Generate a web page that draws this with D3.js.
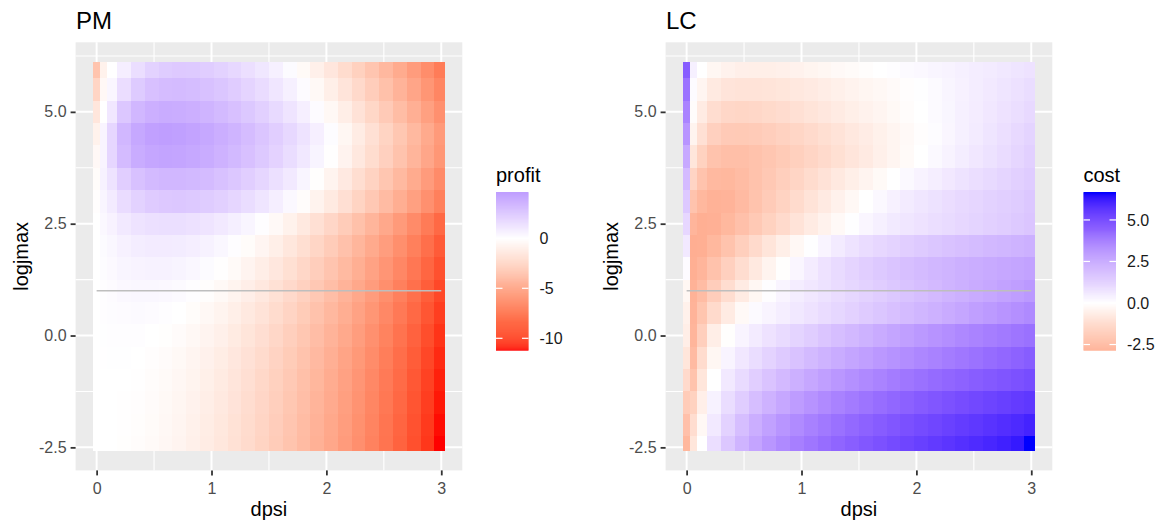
<!DOCTYPE html>
<html>
<head>
<meta charset="utf-8">
<script src="https://cdn.jsdelivr.net/npm/d3@7"></script>
<style>
  body { margin: 0; background: #fff; }
  text { font-family: "Liberation Sans", Arial, sans-serif; }
</style>
</head>
<body>
<svg id="chart" width="1163" height="526"></svg>
<script>
// grid: columns (dpsi), rows (logjmax, bottom to top)
var dpsi = [0, 0.06, 0.12, 0.24, 0.36, 0.48, 0.6, 0.72, 0.84, 0.96, 1.08, 1.2, 1.32, 1.44,
  1.56, 1.68, 1.8, 1.92, 2.04, 2.16, 2.28, 2.4, 2.52, 2.64, 2.76, 2.88, 3.0];
var logjmax = [-2.5, -2, -1.5, -1, -0.5, 0, 0.5, 1, 1.5, 2, 2.5, 3, 3.5, 4, 4.5, 5, 5.5, 6];

// PM panel, one row per logjmax value
var profit = [
  [0, 0, -0.02, -0.07, -0.16, -0.29, -0.45, -0.64, -0.88, -1.14, -1.45, -1.79, -2.16, -2.57, -3.02, -3.5, -4.02, -4.57, -5.16, -5.79, -6.45, -7.14, -7.87, -8.64, -9.45, -10.29, -11.17],
  [0, 0, -0.01, -0.05, -0.14, -0.25, -0.41, -0.6, -0.83, -1.09, -1.39, -1.73, -2.1, -2.51, -2.95, -3.43, -3.95, -4.5, -5.08, -5.71, -6.37, -7.06, -7.79, -8.56, -9.36, -10.2, -11.08],
  [0, 0.01, 0, -0.03, -0.1, -0.21, -0.36, -0.53, -0.76, -1.01, -1.31, -1.64, -2.01, -2.41, -2.85, -3.33, -3.84, -4.39, -4.97, -5.6, -6.26, -6.94, -7.67, -8.44, -9.25, -10.09, -10.95],
  [0, 0.02, 0.02, 0, -0.06, -0.16, -0.29, -0.46, -0.68, -0.92, -1.22, -1.54, -1.9, -2.3, -2.74, -3.21, -3.72, -4.26, -4.85, -5.47, -6.13, -6.81, -7.54, -8.3, -9.11, -9.95, -10.81],
  [0, 0.03, 0.04, 0.04, 0, -0.09, -0.21, -0.37, -0.58, -0.81, -1.09, -1.41, -1.76, -2.15, -2.59, -3.05, -3.56, -4.1, -4.68, -5.3, -5.95, -6.63, -7.36, -8.12, -8.93, -9.76, -10.63],
  [0, 0.05, 0.07, 0.1, 0.09, 0.02, -0.08, -0.22, -0.41, -0.63, -0.91, -1.22, -1.56, -1.94, -2.37, -2.83, -3.34, -3.87, -4.45, -5.06, -5.71, -6.39, -7.12, -7.88, -8.68, -9.52, -10.38],
  [0, 0.07, 0.12, 0.19, 0.21, 0.17, 0.1, -0.02, -0.2, -0.41, -0.67, -0.97, -1.3, -1.68, -2.1, -2.55, -3.05, -3.58, -4.16, -4.77, -5.42, -6.1, -6.82, -7.58, -8.38, -9.22, -10.08],
  [0, 0.1, 0.18, 0.31, 0.36, 0.36, 0.32, 0.22, 0.07, -0.13, -0.38, -0.66, -0.99, -1.36, -1.78, -2.23, -2.72, -3.25, -3.82, -4.44, -5.08, -5.76, -6.48, -7.24, -8.05, -8.88, -9.74],
  [0, 0.15, 0.26, 0.45, 0.56, 0.6, 0.59, 0.52, 0.39, 0.2, -0.04, -0.31, -0.63, -1.0, -1.41, -1.86, -2.36, -2.89, -3.46, -4.07, -4.72, -5.4, -6.12, -6.88, -7.68, -8.52, -9.39],
  [0, 0.2, 0.38, 0.66, 0.83, 0.92, 0.94, 0.9, 0.79, 0.62, 0.39, 0.11, -0.2, -0.57, -0.98, -1.43, -1.93, -2.46, -3.03, -3.65, -4.3, -4.98, -5.7, -6.47, -7.27, -8.11, -8.98],
  [0, 0.32, 0.58, 1.0, 1.28, 1.44, 1.51, 1.5, 1.41, 1.25, 1.03, 0.76, 0.44, 0.07, -0.34, -0.8, -1.3, -1.83, -2.41, -3.03, -3.68, -4.36, -5.09, -5.86, -6.66, -7.5, -8.38],
  [-0.1, 0.46, 0.92, 1.63, 2.11, 2.41, 2.56, 2.6, 2.54, 2.4, 2.18, 1.91, 1.59, 1.22, 0.8, 0.34, -0.16, -0.7, -1.28, -1.9, -2.56, -3.25, -3.98, -4.75, -5.56, -6.4, -7.27],
  [-0.2, 0.6, 1.3, 2.3, 2.9, 3.25, 3.4, 3.4, 3.3, 3.17, 2.92, 2.62, 2.28, 1.89, 1.45, 1.0, 0.48, -0.07, -0.66, -1.29, -1.95, -2.64, -3.37, -4.14, -4.95, -5.79, -6.66],
  [-0.4, 0.5, 1.9, 3.2, 3.9, 4.2, 4.3, 4.25, 4.1, 3.9, 3.6, 3.3, 2.94, 2.53, 2.08, 1.6, 1.08, 0.53, -0.06, -0.69, -1.35, -2.04, -2.77, -3.54, -4.35, -5.19, -6.06],
  [-0.8, 0.5, 1.9, 3.4, 4.1, 4.46, 4.56, 4.5, 4.33, 4.11, 3.83, 3.5, 3.14, 2.73, 2.28, 1.8, 1.28, 0.73, 0.14, -0.49, -1.15, -1.84, -2.57, -3.34, -4.15, -4.99, -5.86],
  [-1.5, 0, 1.1, 2.6, 3.4, 3.75, 3.9, 3.87, 3.74, 3.53, 3.25, 2.93, 2.59, 2.18, 1.73, 1.25, 0.73, 0.18, -0.41, -1.04, -1.7, -2.39, -3.12, -3.89, -4.7, -5.54, -6.41],
  [-2.5, -0.4, 0.4, 1.56, 2.45, 2.93, 3.14, 3.18, 3.1, 2.92, 2.66, 2.36, 2.01, 1.63, 1.18, 0.7, 0.18, -0.37, -0.96, -1.59, -2.25, -2.94, -3.67, -4.44, -5.25, -6.09, -6.96],
  [-3.5, -0.8, 0, 0.8, 1.55, 2.1, 2.4, 2.5, 2.47, 2.33, 2.1, 1.81, 1.48, 1.13, 0.68, 0.2, -0.32, -0.87, -1.46, -2.09, -2.75, -3.44, -4.17, -4.94, -5.75, -6.59, -7.46]
];

// LC panel, one row per logjmax value
var cost = [
  [-2.5, -0.9, 0, 0.9, 1.55, 2.1, 2.55, 2.95, 3.3, 3.6, 3.87, 4.12, 4.35, 4.56, 4.75, 4.93, 5.1, 5.26, 5.41, 5.55, 5.68, 5.81, 5.93, 6.05, 6.17, 6.3, 6.64],
  [-2.2, -1.2, -0.25, 0.6, 1.25, 1.8, 2.25, 2.64, 2.98, 3.28, 3.55, 3.8, 4.03, 4.24, 4.44, 4.62, 4.79, 4.95, 5.1, 5.24, 5.37, 5.5, 5.62, 5.74, 5.85, 5.96, 6.1],
  [-1.8, -1.6, -0.55, 0.35, 0.95, 1.4, 1.8, 2.15, 2.47, 2.77, 3.04, 3.29, 3.52, 3.74, 3.94, 4.13, 4.31, 4.48, 4.64, 4.79, 4.93, 5.06, 5.18, 5.3, 5.41, 5.52, 5.62],
  [-1.3, -2.1, -0.9, 0, 0.6, 1.0, 1.35, 1.66, 1.95, 2.21, 2.46, 2.69, 2.91, 3.12, 3.32, 3.51, 3.7, 3.88, 4.03, 4.18, 4.32, 4.45, 4.58, 4.7, 4.82, 4.93, 5.05],
  [-0.9, -2.4, -1.25, -0.3, 0.3, 0.65, 0.95, 1.22, 1.47, 1.7, 1.92, 2.13, 2.33, 2.52, 2.7, 2.88, 3.05, 3.22, 3.38, 3.54, 3.7, 3.85, 4.0, 4.15, 4.3, 4.45, 4.6],
  [-0.6, -2.6, -1.7, -0.6, -0.05, 0.3, 0.55, 0.8, 1.0, 1.2, 1.4, 1.6, 1.8, 1.98, 2.16, 2.34, 2.52, 2.7, 2.87, 3.03, 3.19, 3.34, 3.49, 3.63, 3.77, 3.9, 4.03],
  [-0.5, -2.65, -2.05, -1.3, -0.7, -0.2, 0.13, 0.3, 0.47, 0.64, 0.8, 0.96, 1.12, 1.28, 1.44, 1.59, 1.74, 1.89, 2.04, 2.19, 2.34, 2.49, 2.68, 2.84, 3.0, 3.15, 3.3],
  [-0.3, -2.7, -2.35, -1.75, -1.2, -0.72, -0.3, 0.05, 0.3, 0.5, 0.65, 0.81, 0.96, 1.11, 1.26, 1.4, 1.54, 1.68, 1.82, 1.95, 2.08, 2.21, 2.34, 2.47, 2.6, 2.73, 2.86],
  [0.1, -2.8, -2.6, -2.15, -1.65, -1.2, -0.78, -0.4, -0.05, 0.25, 0.53, 0.8, 1.0, 1.18, 1.35, 1.5, 1.64, 1.77, 1.89, 2.0, 2.1, 2.2, 2.29, 2.37, 2.45, 2.53, 2.6],
  [0.6, -2.83, -2.8, -2.5, -2.1, -1.7, -1.3, -0.93, -0.58, -0.26, 0.04, 0.3, 0.54, 0.76, 0.96, 1.1, 1.23, 1.36, 1.48, 1.59, 1.69, 1.79, 1.88, 1.97, 2.05, 2.13, 2.2],
  [1.1, -2.6, -2.8, -2.75, -2.5, -2.2, -1.9, -1.6, -1.3, -1.0, -0.72, -0.45, -0.2, 0.03, 0.24, 0.42, 0.58, 0.7, 0.8, 0.9, 1.0, 1.1, 1.2, 1.3, 1.4, 1.5, 1.6],
  [1.5, -2.1, -2.5, -2.7, -2.65, -2.4, -2.1, -1.83, -1.55, -1.27, -0.99, -0.73, -0.48, -0.24, 0, 0.2, 0.38, 0.54, 0.68, 0.81, 0.93, 1.04, 1.14, 1.24, 1.33, 1.42, 1.55],
  [1.9, -1.5, -2.1, -2.45, -2.5, -2.35, -2.15, -1.93, -1.7, -1.47, -1.24, -1.01, -0.79, -0.58, -0.38, -0.19, 0, 0.17, 0.33, 0.48, 0.62, 0.76, 0.9, 1.03, 1.16, 1.29, 1.42],
  [2.4, -0.9, -1.6, -2.1, -2.25, -2.25, -2.15, -2.0, -1.84, -1.67, -1.49, -1.3, -1.11, -0.92, -0.73, -0.54, -0.36, -0.18, 0, 0.17, 0.33, 0.49, 0.65, 0.81, 0.97, 1.13, 1.3],
  [3.0, -0.4, -1.1, -1.65, -1.85, -1.88, -1.82, -1.72, -1.59, -1.45, -1.3, -1.14, -0.98, -0.82, -0.66, -0.5, -0.35, -0.2, -0.06, 0.08, 0.24, 0.4, 0.56, 0.72, 0.88, 1.04, 1.2],
  [3.5, -0.1, -0.7, -1.2, -1.4, -1.45, -1.4, -1.32, -1.22, -1.1, -0.97, -0.84, -0.71, -0.58, -0.46, -0.34, -0.22, -0.11, 0, 0.13, 0.26, 0.4, 0.53, 0.66, 0.79, 0.92, 1.05],
  [4.0, 0.1, -0.35, -0.75, -0.95, -1.0, -1.0, -0.96, -0.9, -0.82, -0.73, -0.63, -0.53, -0.43, -0.33, -0.24, -0.16, -0.06, 0.04, 0.15, 0.27, 0.38, 0.5, 0.61, 0.72, 0.84, 0.95],
  [4.6, 0.4, 0, -0.3, -0.45, -0.55, -0.58, -0.57, -0.52, -0.45, -0.37, -0.29, -0.21, -0.14, -0.07, -0.01, 0.06, 0.13, 0.2, 0.27, 0.34, 0.41, 0.49, 0.56, 0.64, 0.72, 0.8]
];

var xTicks = [0, 1, 2, 3];
var yTicks = [-2.5, 0, 2.5, 5];
var profitTicks = [-10, -5, 0];
var costTicks = [-2.5, 0, 2.5, 5];
var refLevel = 1;          // grey segment at logjmax = 1
var refSpan = [0, 3];

// raster extent (half a fine cell past the outer samples)
var rasterX = [-0.03, 3.03], rasterY = [-2.58, 6.12];

var svg = d3.select("#chart");

function expand(ext) {
  var pad = (ext[1] - ext[0]) * 0.05;
  return [ext[0] - pad, ext[1] + pad];
}

function edges(centers, lo, hi) {
  return centers.map(function(c, i) {
    var a = i === 0 ? lo : (centers[i - 1] + c) / 2;
    var b = i === centers.length - 1 ? hi : (c + centers[i + 1]) / 2;
    return [a, b];
  });
}

var colEdges = edges(dpsi, rasterX[0], rasterX[1]);
var rowEdges = edges(logjmax, rasterY[0], rasterY[1]);

function drawPanel(cfg) {
  var off = cfg.offset;
  var g = svg.append("g");

  var x = d3.scaleLinear().domain(expand(rasterX)).range([75.6 + off, 462.3 + off]);
  var y = d3.scaleLinear().domain(expand(rasterY)).range([470.4, 42.3]);

  var flat = d3.merge(cfg.values);
  var ext = d3.extent(flat);
  var lim = d3.max(flat, Math.abs);
  var color = d3.scaleDiverging(function(t) {
      return t < 0.5 ? d3.interpolateLab("red", "white")(t * 2)
                     : d3.interpolateLab("white", "blue")(t * 2 - 1);
    }).domain([-lim, 0, lim]);

  // panel background + grid
  g.append("rect")
    .attr("x", x.range()[0]).attr("y", y.range()[1])
    .attr("width", x.range()[1] - x.range()[0])
    .attr("height", y.range()[0] - y.range()[1])
    .attr("fill", "#ebebeb");

  var xMinor = [0.5, 1.5, 2.5];
  var yMinor = [-1.25, 1.25, 3.75, 6.25];
  g.selectAll(".xminor").data(xMinor).enter().append("line")
    .attr("x1", x).attr("x2", x)
    .attr("y1", y.range()[0]).attr("y2", y.range()[1])
    .attr("stroke", "#fff").attr("stroke-width", 1.1);
  g.selectAll(".yminor").data(yMinor).enter().append("line")
    .attr("y1", y).attr("y2", y)
    .attr("x1", x.range()[0]).attr("x2", x.range()[1])
    .attr("stroke", "#fff").attr("stroke-width", 1.1);
  g.selectAll(".xmajor").data(xTicks).enter().append("line")
    .attr("x1", x).attr("x2", x)
    .attr("y1", y.range()[0]).attr("y2", y.range()[1])
    .attr("stroke", "#fff").attr("stroke-width", 2);
  g.selectAll(".ymajor").data(yTicks).enter().append("line")
    .attr("y1", y).attr("y2", y)
    .attr("x1", x.range()[0]).attr("x2", x.range()[1])
    .attr("stroke", "#fff").attr("stroke-width", 2);

  // raster cells
  var cells = [];
  cfg.values.forEach(function(row, j) {
    row.forEach(function(v, i) {
      cells.push({ i: i, j: j, v: v });
    });
  });
  g.append("g").attr("shape-rendering", "crispEdges")
    .selectAll("rect").data(cells).enter().append("rect")
    .attr("x", function(d) { return x(colEdges[d.i][0]); })
    .attr("width", function(d) { return x(colEdges[d.i][1]) - x(colEdges[d.i][0]); })
    .attr("y", function(d) { return y(rowEdges[d.j][1]); })
    .attr("height", function(d) { return y(rowEdges[d.j][0]) - y(rowEdges[d.j][1]); })
    .attr("fill", function(d) { return color(d.v); });

  // reference segment
  g.append("line")
    .attr("x1", x(refSpan[0])).attr("x2", x(refSpan[1]))
    .attr("y1", y(refLevel)).attr("y2", y(refLevel))
    .attr("stroke", "#bebebe").attr("stroke-width", 1.6);

  // axes
  var xAxis = g.append("g")
    .attr("transform", "translate(0," + y.range()[0] + ")")
    .call(d3.axisBottom(x).tickValues(xTicks).tickSize(5).tickPadding(7)
      .tickFormat(function(d) { return String(d); }));
  var yAxis = g.append("g")
    .attr("transform", "translate(" + x.range()[0] + ",0)")
    .call(d3.axisLeft(y).tickValues(yTicks).tickSize(5).tickPadding(4)
      .tickFormat(function(d) { return d.toFixed(1); }));
  [xAxis, yAxis].forEach(function(a) {
    a.select(".domain").remove();
    a.selectAll(".tick line").attr("stroke", "#333333").attr("stroke-width", 1.8);
    a.selectAll(".tick text").attr("fill", "#4d4d4d")
      .style("font-size", "16px").style("font-family", "'Liberation Sans', Arial, sans-serif");
  });

  g.append("text")
    .attr("x", (x.range()[0] + x.range()[1]) / 2).attr("y", 516)
    .attr("text-anchor", "middle").style("font-size", "20px")
    .text("dpsi");
  g.append("text")
    .attr("transform", "translate(" + (28 + off) + "," + ((y.range()[0] + y.range()[1]) / 2) + ") rotate(-90)")
    .attr("text-anchor", "middle").style("font-size", "20px")
    .text("logjmax");
  g.append("text")
    .attr("x", 76 + off).attr("y", 29)
    .style("font-size", "24px")
    .text(cfg.title);

  // colour bar legend
  var lx = cfg.legendX, bw = 32.5;
  var ly = d3.scaleLinear().domain(ext).range([350, 192.7]);
  var steps = d3.range(0, 160).map(function(k) {
    return ext[0] + (ext[1] - ext[0]) * k / 159;
  });
  var lg = svg.append("g");
  lg.append("g").selectAll("rect").data(steps).enter().append("rect")
    .attr("x", lx).attr("width", bw)
    .attr("y", function(d) { return ly(d) - 0.7; })
    .attr("height", 1.4)
    .attr("fill", function(d) { return color(d); });
  lg.selectAll(".tickl").data(cfg.legendTicks).enter().append("line")
    .attr("x1", lx).attr("x2", lx + bw / 5)
    .attr("y1", ly).attr("y2", ly)
    .attr("stroke", "#fff").attr("stroke-width", 1.2);
  lg.selectAll(".tickr").data(cfg.legendTicks).enter().append("line")
    .attr("x1", lx + bw * 4 / 5).attr("x2", lx + bw)
    .attr("y1", ly).attr("y2", ly)
    .attr("stroke", "#fff").attr("stroke-width", 1.2);
  var la = lg.append("g")
    .attr("transform", "translate(" + (lx + bw) + ",0)")
    .call(d3.axisRight(ly).tickValues(cfg.legendTicks).tickSize(0).tickPadding(11)
      .tickFormat(cfg.legendFormat));
  la.select(".domain").remove();
  la.selectAll(".tick text").attr("fill", "#1a1a1a")
    .style("font-size", "16px").style("font-family", "'Liberation Sans', Arial, sans-serif");
  lg.append("text")
    .attr("x", lx).attr("y", 182)
    .style("font-size", "20px")
    .text(cfg.legendTitle);
}

drawPanel({
  offset: 0, title: "PM", values: profit,
  legendX: 496, legendTitle: "profit", legendTicks: profitTicks,
  legendFormat: function(d) { return String(d); }
});
drawPanel({
  offset: 590, title: "LC", values: cost,
  legendX: 1083.5, legendTitle: "cost", legendTicks: costTicks,
  legendFormat: function(d) { return d.toFixed(1); }
});
</script>
</body>
</html>
